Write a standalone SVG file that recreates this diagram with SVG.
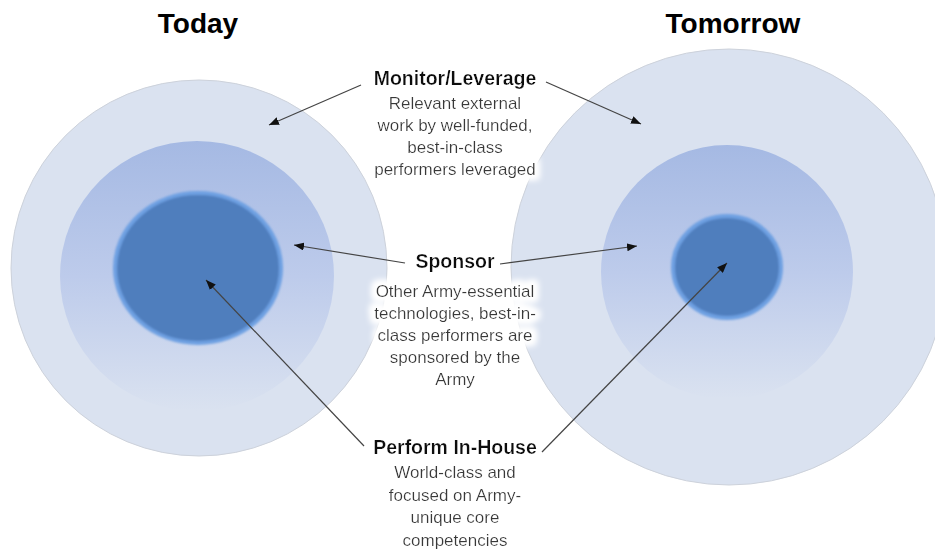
<svg xmlns="http://www.w3.org/2000/svg" width="935" height="553" viewBox="0 0 935 553">
  <defs>
    <style>
      .title { font-family: "Liberation Sans", Arial, sans-serif; font-weight: bold; font-size: 28px; fill: #000; text-anchor: middle; }
      .head { font-family: "Liberation Sans", Arial, sans-serif; font-weight: bold; font-size: 19.5px; fill: #111; text-anchor: middle; }
      .body { font-family: "Liberation Sans", Arial, sans-serif; font-size: 17px; fill: #383838; text-anchor: middle; }
      .outer { fill: #dae2f0; stroke: #cdd2db; stroke-width: 1; }
      .inner { fill: #4f7ebd; stroke: #6ea0e2; stroke-width: 4; filter: url(#soft); }
      .conn line { stroke: #444; stroke-width: 1.2; marker-end: url(#arrow); }
    </style>
    <linearGradient id="midL" x1="0" y1="0" x2="0" y2="1">
      <stop offset="0" stop-color="#a5b9e3"/>
      <stop offset="0.5" stop-color="#bdcbeb"/>
      <stop offset="1" stop-color="#dae2f0"/>
    </linearGradient>
    <filter id="soft" x="-10%" y="-10%" width="120%" height="120%">
      <feGaussianBlur stdDeviation="0.8"/>
    </filter>
    <filter id="halo" x="-20%" y="-20%" width="140%" height="140%">
      <feMorphology in="SourceAlpha" operator="dilate" radius="4" result="d"/>
      <feGaussianBlur in="d" stdDeviation="3" result="b"/>
      <feFlood flood-color="#ffffff"/>
      <feComposite in2="b" operator="in" result="w"/>
      <feMerge>
        <feMergeNode in="w"/>
        <feMergeNode in="w"/>
        <feMergeNode in="SourceGraphic"/>
      </feMerge>
    </filter>
    <marker id="arrow" viewBox="0 0 10 8" refX="10" refY="4" markerWidth="10" markerHeight="8" markerUnits="userSpaceOnUse" orient="auto">
      <path d="M0,0 L10,4 L0,8 Z" fill="#111"/>
    </marker>
  </defs>

  <rect width="935" height="553" fill="#ffffff"/>

  <!-- column titles -->
  <text class="title" x="198" y="33">Today</text>
  <text class="title" x="733" y="33">Tomorrow</text>

  <!-- today: broad in-house core -->
  <g id="today">
    <circle class="outer" cx="199" cy="268" r="188"/>
    <ellipse cx="197" cy="276" rx="137" ry="135" fill="url(#midL)"/>
    <ellipse class="inner" cx="198" cy="268" rx="83" ry="75"/>
  </g>

  <!-- tomorrow: smaller core, larger sponsored and monitored rings -->
  <g id="tomorrow">
    <circle class="outer" cx="729" cy="267" r="218"/>
    <ellipse cx="727" cy="272" rx="126" ry="127" fill="url(#midL)"/>
    <ellipse class="inner" cx="727" cy="267" rx="54" ry="51"/>
  </g>

  <!-- ring descriptions -->
  <g id="monitor" filter="url(#halo)">
    <text class="head" x="455" y="85">Monitor/Leverage</text>
    <text class="body" x="455" y="109">Relevant external</text>
    <text class="body" x="455" y="131">work by well-funded,</text>
    <text class="body" x="455" y="153">best-in-class</text>
    <text class="body" x="455" y="175">performers leveraged</text>
  </g>

  <g id="sponsor" filter="url(#halo)">
    <text class="head" x="455" y="268">Sponsor</text>
    <text class="body" x="455" y="297">Other Army-essential</text>
    <text class="body" x="455" y="319">technologies, best-in-</text>
    <text class="body" x="455" y="341">class performers are</text>
    <text class="body" x="455" y="363">sponsored by the</text>
    <text class="body" x="455" y="385">Army</text>
  </g>

  <g id="perform" filter="url(#halo)">
    <text class="head" x="455" y="454">Perform In-House</text>
    <text class="body" x="455" y="478">World-class and</text>
    <text class="body" x="455" y="501">focused on Army-</text>
    <text class="body" x="455" y="523">unique core</text>
    <text class="body" x="455" y="546">competencies</text>
  </g>

  <!-- pointers from each description to its ring -->
  <g id="connectors" class="conn">
    <line x1="361" y1="85" x2="269" y2="125"/>
    <line x1="546" y1="82" x2="641" y2="124"/>
    <line x1="405" y1="263" x2="294" y2="245"/>
    <line x1="500" y1="264" x2="637" y2="246"/>
    <line x1="364" y1="446" x2="206" y2="280"/>
    <line x1="542" y1="452" x2="727" y2="263"/>
  </g>
</svg>
